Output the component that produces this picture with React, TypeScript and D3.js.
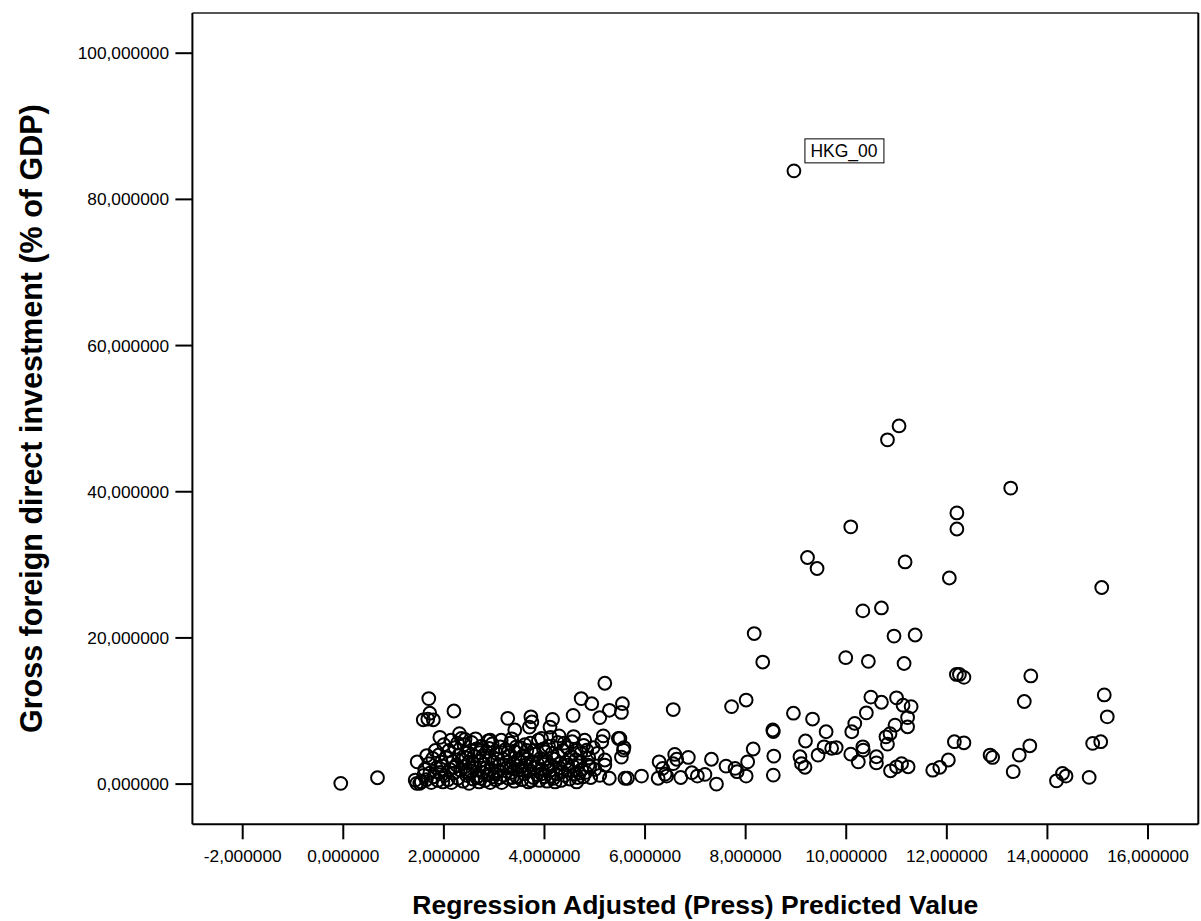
import React from "react";
import * as d3 from "d3";

// Tick values
const xTicks = [-2, 0, 2, 4, 6, 8, 10, 12, 14, 16];
const yTicks = [0, 20, 40, 60, 80, 100];

// Labelled outlier
const labelled: [number, number, string][] = [[8.96, 83.9, "HKG_00"]];

// Sparse / high points
const highPoints: [number, number][] = [
  [11.05, 49.0], [10.82, 47.1], [13.27, 40.5], [12.2, 37.1], [12.2, 34.9], [10.09, 35.2],
  [9.23, 31.0], [9.42, 29.5], [11.17, 30.4], [12.05, 28.2], [15.08, 26.9],
  [10.33, 23.7], [10.70, 24.1], [10.95, 20.25], [11.37, 20.4], [8.17, 20.6],
  [9.99, 17.3], [10.44, 16.8], [11.15, 16.5], [8.34, 16.7],
  [12.19, 15.0], [12.25, 15.0], [12.34, 14.6], [13.67, 14.8], [13.54, 11.3], [15.13, 12.2], [15.19, 9.2],
];

// Middle-range points (x 5.5 – 15)
const midPoints: [number, number][] = [
  [6.56, 10.2], [7.72, 10.6], [8.01, 11.5], [8.95, 9.7], [9.33, 8.9], [8.54, 7.4], [8.55, 7.2], [9.19, 5.9],
  [6.28, 3.05], [6.59, 4.06], [6.63, 3.4], [6.86, 3.65], [6.56, 2.8], [6.35, 2.15], [6.40, 1.37], [6.43, 1.1],
  [6.26, 0.8], [5.65, 0.8], [5.93, 1.1], [6.71, 0.9], [6.93, 1.55], [7.04, 1.1], [7.19, 1.33], [7.32, 3.4],
  [7.42, 0.0], [7.61, 2.46], [7.79, 2.15], [7.83, 1.7], [8.01, 1.1], [8.04, 3.05], [8.15, 4.8], [8.56, 3.83],
  [8.55, 1.23], [9.08, 3.74], [9.11, 2.8], [9.18, 2.3],
  [10.49, 11.9], [10.70, 11.2], [11.0, 11.8], [11.13, 10.8], [11.29, 10.6], [10.40, 9.75], [11.22, 9.1],
  [11.22, 7.84], [10.97, 8.07], [9.6, 7.16], [10.17, 8.3], [10.11, 7.16], [10.79, 6.47], [10.87, 6.9],
  [10.82, 5.47], [9.56, 5.1], [9.71, 4.9], [9.80, 5.0], [9.44, 3.97], [10.09, 4.1], [10.24, 3.05],
  [10.33, 5.1], [10.34, 4.65], [10.6, 3.74], [10.6, 2.9], [10.88, 1.82], [11.0, 2.37], [11.1, 2.8],
  [11.23, 2.37], [11.72, 1.9], [11.86, 2.3], [12.03, 3.3], [12.15, 5.8], [12.34, 5.65], [12.86, 3.97],
  [12.91, 3.65], [13.65, 5.24], [13.44, 3.97], [13.32, 1.7], [14.9, 5.57], [15.06, 5.8], [14.18, 0.45],
  [14.3, 1.46], [14.37, 1.1], [14.83, 0.92],
];

// Left cluster edges (x < 5.6)
const clusterEdge: [number, number][] = [
  [-0.05, 0.1], [0.68, 0.87],
  [1.70, 11.7], [2.20, 10.0], [1.59, 8.8], [1.72, 9.7], [1.79, 8.8], [1.68, 8.9], [1.92, 6.4], [2.31, 6.9],
  [2.42, 6.1], [1.47, 3.05], [1.46, 0.1], [1.43, 0.55], [1.52, 0.1], [2.35, 6.25], [2.92, 6.0],
  [5.20, 13.8], [4.73, 11.7], [4.94, 11.0], [5.55, 11.0], [5.29, 10.1], [5.53, 9.8], [5.10, 9.1], [4.57, 9.4],
  [3.27, 9.0], [3.73, 9.2], [3.75, 8.5], [3.70, 7.8], [4.16, 8.85], [4.11, 7.8], [3.41, 7.4], [4.29, 6.6],
  [3.94, 6.25], [4.58, 6.5], [5.17, 6.6], [5.14, 5.8], [5.47, 6.25], [5.57, 4.65], [5.53, 3.7], [5.20, 3.3],
  [5.20, 2.6], [5.29, 0.8], [5.6, 0.8], [4.84, 4.65], [4.87, 2.6], [4.77, 1.0], [4.64, 0.3], [5.5, 6.25],
  [5.58, 5.0], [4.8, 6.0],
];

// Dense core of the cluster
const clusterCore: [number, number][] = [
  [1.55, 0.3], [1.6, 1.2], [1.62, 2.0], [1.65, 0.6], [1.7, 2.8], [1.72, 1.5], [1.75, 0.2], [1.78, 3.5],
  [1.8, 1.0], [1.85, 2.2], [1.88, 0.5], [1.9, 4.0], [1.92, 1.6], [1.95, 3.0], [1.98, 0.3], [1.97, 2.5],
  [2.02, 1.2], [2.05, 3.6], [2.08, 0.6], [2.1, 4.6], [2.12, 2.0], [2.15, 0.2], [2.18, 3.1], [2.2, 1.5],
  [2.22, 5.0], [2.25, 2.6], [2.28, 0.8], [2.3, 4.0], [2.33, 1.9], [2.36, 3.3], [2.38, 0.4], [2.4, 5.4],
  [2.42, 2.4], [2.45, 1.2], [2.48, 4.3], [2.5, 0.1], [2.5, 3.0],
  [2.53, 1.8], [2.55, 5.7], [2.58, 0.7], [2.6, 3.8], [2.62, 2.3], [2.65, 4.8], [2.68, 1.1], [2.7, 0.3],
  [2.72, 3.2], [2.75, 5.2], [2.77, 1.6], [2.8, 2.7], [2.82, 0.5], [2.85, 4.4], [2.87, 1.3], [2.9, 3.6],
  [2.92, 0.2], [2.94, 2.0], [2.96, 5.5], [2.98, 1.0], [3.0, 3.0], [2.9, 4.9], [2.65, 0.9], [2.78, 3.9],
  [3.03, 0.6], [3.05, 4.2], [3.08, 1.8], [3.1, 2.6], [3.12, 5.1], [3.15, 0.2], [3.18, 3.4], [3.2, 1.2],
  [3.22, 4.7], [3.25, 2.2], [3.28, 0.8], [3.3, 3.8], [3.32, 5.6], [3.35, 1.6], [3.38, 2.9], [3.4, 0.4],
  [3.42, 4.4], [3.45, 1.0], [3.48, 3.3], [3.5, 2.0], [3.35, 6.2],
  [3.52, 5.0], [3.55, 0.6], [3.58, 3.9], [3.6, 1.4], [3.62, 2.6], [3.65, 4.6], [3.68, 0.3], [3.7, 1.9],
  [3.72, 5.6], [3.75, 3.1], [3.78, 0.9], [3.8, 2.3], [3.82, 4.1], [3.85, 1.3], [3.88, 6.0], [3.9, 0.5],
  [3.92, 3.5], [3.95, 2.0], [3.98, 4.8], [4.0, 1.0],
  [4.03, 3.0], [4.05, 0.4], [4.08, 5.2], [4.1, 1.8], [4.13, 2.6], [4.15, 4.2], [4.18, 0.8], [4.2, 3.4],
  [4.23, 1.4], [4.26, 5.7], [4.3, 2.2], [4.33, 0.5], [4.36, 4.6], [4.4, 1.2], [4.42, 3.0], [4.45, 5.0],
  [4.48, 1.9],
  [4.5, 0.7], [4.53, 3.8], [4.56, 2.5], [4.6, 1.4], [4.63, 4.6], [4.66, 0.9], [4.7, 3.0], [4.74, 2.0],
  [4.78, 5.3], [4.82, 1.6], [4.88, 3.6], [4.92, 0.9], [5.0, 2.0], [5.05, 4.2], [5.1, 1.2],
  // second layer of the dense core
  [1.66, 3.9], [1.83, 4.6], [2.0, 5.4], [2.14, 6.0], [2.27, 5.6], [2.44, 3.6], [2.57, 2.9], [2.63, 6.2],
  [2.71, 4.3], [2.84, 2.2], [2.88, 5.9], [3.02, 1.4], [3.07, 3.4], [3.14, 6.0], [3.19, 2.6], [3.27, 4.3],
  [3.36, 0.9], [3.44, 5.1], [3.47, 2.5], [3.56, 1.9], [3.61, 5.4], [3.66, 3.4], [3.74, 0.5], [3.79, 4.6],
  [3.86, 2.8], [3.94, 1.4], [4.02, 4.4], [4.07, 2.2], [4.12, 6.4], [4.21, 0.3], [4.27, 3.9], [4.35, 1.7],
  [4.39, 5.6], [4.46, 2.6], [4.55, 5.8], [4.62, 3.3], [4.69, 1.5], [4.72, 4.2], [4.9, 2.4], [4.97, 5.0],
  [2.2, 2.3], [2.47, 1.5], [2.74, 0.8], [3.11, 0.9], [3.33, 2.4], [3.53, 3.0], [3.71, 2.7], [3.99, 3.3],
  [4.14, 1.1], [4.31, 2.8],
];

const xTitle = "Regression Adjusted (Press) Predicted Value";
const yTitle = "Gross foreign direct investment (% of GDP)";

const fmt = (v: number) => v.toFixed(6).replace(".", ",");

export default function App() {
  const W = 1201, H = 921;
  const left = 192.4, right = 1198.3, top = 13, bottom = 824.3;
  const x = d3.scaleLinear().domain([-3, 17]).range([left, right]);
  const y = d3.scaleLinear().domain([-5.5, 105.5]).range([bottom, top]);
  const all = [...clusterCore, ...clusterEdge, ...midPoints, ...highPoints, ...labelled.map(d => [d[0], d[1]] as [number, number])];
  const font = "Arial, 'Liberation Sans', sans-serif";
  return (
    <svg width={W} height={H} style={{ position: "absolute", left: 0, top: 0, background: "#fff" }} fontFamily={font}>
      <rect x={0} y={0} width={W} height={H} fill="#fff" />
      {/* frame */}
      <line x1={left} x2={right} y1={top} y2={top} stroke="#555" strokeWidth={2} />
      <line x1={right} x2={right} y1={top} y2={bottom} stroke="#000" strokeWidth={2} />
      <line x1={left} x2={right} y1={bottom} y2={bottom} stroke="#000" strokeWidth={2} />
      <line x1={left} x2={left} y1={top} y2={bottom} stroke="#000" strokeWidth={2} />
      {xTicks.map(t => (
        <g key={"x" + t}>
          <line x1={x(t)} x2={x(t)} y1={bottom} y2={bottom + 15} stroke="#000" strokeWidth={2} />
          <text x={x(t)} y={862} textAnchor="middle" fontSize={17.3} fill="#000">{fmt(t)}</text>
        </g>
      ))}
      {yTicks.map(t => (
        <g key={"y" + t}>
          <line x1={left - 17} x2={left} y1={y(t)} y2={y(t)} stroke="#000" strokeWidth={2} />
          <text x={169} y={y(t) + 6} textAnchor="end" fontSize={17.3} fill="#000">{fmt(t)}</text>
        </g>
      ))}
      {all.map((d, i) => (
        <circle key={i} cx={x(d[0])} cy={y(d[1])} r={6.4} fill="none" stroke="#000" strokeWidth={2} />
      ))}
      {labelled.map((d, i) => (
        <g key={"l" + i}>
          <rect x={x(d[0]) + 11} y={y(d[1]) - 32} width={79} height={24} fill="#fff" stroke="#000" strokeWidth={1} />
          <text x={x(d[0]) + 16.5} y={y(d[1]) - 14} fontSize={17.5} fill="#000">{d[2]}</text>
        </g>
      ))}
      <text x={(left + right) / 2} y={914} textAnchor="middle" fontSize={26.5} fontWeight="bold" fill="#000">{xTitle}</text>
      <text transform={`translate(42, ${(top + bottom) / 2}) rotate(-90)`} textAnchor="middle" fontSize={30.5} fontWeight="bold" fill="#000">{yTitle}</text>
    </svg>
  );
}
